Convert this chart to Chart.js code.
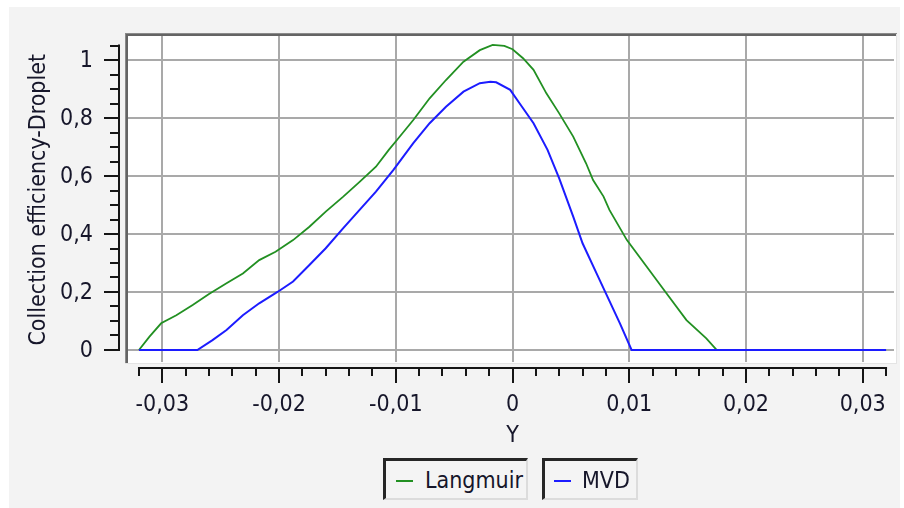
<!DOCTYPE html>
<html>
<head>
<meta charset="utf-8">
<script src="https://cdn.jsdelivr.net/npm/chart.js@4.4.1/dist/chart.umd.min.js"></script>
<style>
  html, body { margin: 0; padding: 0; background: #ffffff; }
  #wrap { position: relative; width: 904px; height: 508px; overflow: hidden; }
  #panel { position: absolute; left: 9px; top: 7px; width: 891px; height: 501px; background: #f3f3f3; }
  #plot { position: absolute; left: 0; top: 0; }
  .lg { position: absolute; top: 458px; height: 42px; box-sizing: border-box;
        border-top: 3px solid #262626; border-left: 3px solid #262626;
        border-right: 2px solid #dcdcdc; border-bottom: 2px solid #dcdcdc;
        background: #f4f4f4; font: 23px "DejaVu Sans Condensed", "Liberation Sans", sans-serif; color: #16162a; }
  .lg .sym { position: absolute; top: 19px; width: 17px; height: 2px; }
  .lg .txt { position: absolute; top: 5px; line-height: 28px; white-space: nowrap; }
</style>
</head>
<body>
<div id="wrap">
  <div id="panel"></div>
  <canvas id="plot" width="904" height="508"></canvas>
  <div class="lg" style="left:383px;width:145px;">
    <div class="sym" style="left:10px;background:#229022;"></div>
    <div class="txt" style="left:39px;">Langmuir</div>
  </div>
  <div class="lg" style="left:542px;width:96px;">
    <div class="sym" style="left:9px;background:#1c1cff;"></div>
    <div class="txt" style="left:37px;">MVD</div>
  </div>
</div>
<script>
// Collection efficiency along Y for the two droplet models
const langmuirX = [-0.032, -0.0311, -0.0301, -0.0288, -0.0274, -0.026, -0.0245, -0.0231, -0.0217, -0.0203,
  -0.0188, -0.0174, -0.016, -0.0145, -0.0131, -0.0117, -0.0106, -0.0099, -0.0085, -0.0071, -0.0057,
  -0.0042, -0.0028, -0.0017, -0.0007, 0.0, 0.0009, 0.0018, 0.0029, 0.004, 0.0052, 0.0063, 0.0069,
  0.0078, 0.0083, 0.0098, 0.0115, 0.0132, 0.0149, 0.0166, 0.0175, 0.032];
const langmuirY = [0, 0.046, 0.092, 0.12, 0.155, 0.193, 0.23, 0.264, 0.31, 0.339,
  0.379, 0.425, 0.477, 0.529, 0.58, 0.632, 0.69, 0.724, 0.793, 0.868, 0.931,
  0.994, 1.034, 1.052, 1.049, 1.037, 1.006, 0.966, 0.885, 0.816, 0.736, 0.644, 0.586,
  0.529, 0.483, 0.379, 0.287, 0.195, 0.103, 0.04, 0, 0];

const mvdX = [-0.032, -0.027, -0.0257, -0.0245, -0.0231, -0.0217, -0.0201, -0.0188, -0.0174, -0.016,
  -0.0145, -0.0131, -0.0117, -0.0102, -0.0085, -0.0071, -0.0057, -0.0042, -0.0028, -0.0019, -0.0014,
  -0.0002, 0.0006, 0.0018, 0.003, 0.004, 0.0052, 0.006, 0.0072, 0.008, 0.0092, 0.0102, 0.032];
const mvdY = [0, 0, 0.034, 0.069, 0.12, 0.161, 0.201, 0.236, 0.293, 0.351,
  0.42, 0.483, 0.546, 0.621, 0.713, 0.782, 0.839, 0.891, 0.92, 0.925, 0.923,
  0.897, 0.851, 0.782, 0.69, 0.592, 0.46, 0.368, 0.264, 0.195, 0.092, 0, 0];

// Axis ticks and labels (decimal comma)
const xMajorTicks = [-0.03, -0.02, -0.01, 0, 0.01, 0.02, 0.03];
const xTickLabels = ['-0,03', '-0,02', '-0,01', '0', '0,01', '0,02', '0,03'];
const yMajorTicks = [0, 0.2, 0.4, 0.6, 0.8, 1];
const yTickLabels = ['0', '0,2', '0,4', '0,6', '0,8', '1'];
const xAxisSpan = [-0.032, 0.032];
const yAxisSpan = [0, 1.05];
const xMinorStep = 0.002;
const yMinorStep = 0.05;
const xTitle = 'Y';
const yTitle = 'Collection efficiency-Droplet';

const FONT = '23px "DejaVu Sans Condensed", "Liberation Sans", sans-serif';
const TEXT = '#16162a';

const toPoints = (xs, ys) => xs.map((x, i) => ({ x, y: ys[i] }));

const canvasPlugin = {
  id: 'plotCanvas',
  beforeDatasetsDraw(chart) {
    const { ctx, chartArea: a, scales: { x, y } } = chart;
    ctx.save();
    // white plotting canvas
    ctx.fillStyle = '#ffffff';
    ctx.fillRect(a.left, a.top, a.right - a.left + 3, a.bottom - a.top + 1);
    // grid
    ctx.strokeStyle = '#a9a9a9';
    ctx.lineWidth = 2;
    ctx.beginPath();
    xMajorTicks.forEach(v => {
      const px = Math.round(x.getPixelForValue(v));
      ctx.moveTo(px, a.top); ctx.lineTo(px, a.bottom);
    });
    yMajorTicks.forEach(v => {
      const py = Math.round(y.getPixelForValue(v));
      ctx.moveTo(a.left, py); ctx.lineTo(a.right, py);
    });
    ctx.stroke();
    ctx.restore();
  },
  afterDatasetsDraw(chart) {
    const { ctx, chartArea: a, scales: { x, y } } = chart;
    ctx.save();
    // sunken frame around the canvas
    ctx.fillStyle = '#e4e4e4';
    ctx.fillRect(a.right + 2, a.top - 3, 1, a.bottom - a.top + 5);
    ctx.fillRect(a.left - 3, a.bottom + 1, a.right - a.left + 6, 1);
    ctx.fillStyle = '#8a8a8a';
    ctx.fillRect(a.left - 3, a.top - 3, a.right - a.left + 6, 1);
    ctx.fillRect(a.left - 3, a.top - 3, 1, a.bottom - a.top + 4);
    ctx.fillStyle = '#646464';
    ctx.fillRect(a.left - 2, a.top - 2, a.right - a.left + 4, 2);
    ctx.fillRect(a.left - 2, a.top - 2, 2, a.bottom - a.top + 3);

    ctx.strokeStyle = '#151515';
    ctx.fillStyle = TEXT;
    ctx.lineWidth = 2;
    ctx.font = FONT;

    // bottom axis, offset below the canvas
    const ay = a.bottom + 6;
    const x0 = x.getPixelForValue(xAxisSpan[0]);
    const x1 = x.getPixelForValue(xAxisSpan[1]);
    ctx.beginPath();
    ctx.moveTo(x0 - 1, ay); ctx.lineTo(x1 + 1, ay);
    const nx = Math.round((xAxisSpan[1] - xAxisSpan[0]) / xMinorStep);
    for (let i = 0; i <= nx; i++) {
      const v = xAxisSpan[0] + i * xMinorStep;
      const px = Math.round(x.getPixelForValue(v));
      const major = xMajorTicks.some(t => Math.abs(t - v) < 1e-9);
      ctx.moveTo(px, ay); ctx.lineTo(px, ay + (major ? 15 : 8));
    }
    ctx.stroke();
    ctx.textAlign = 'center';
    ctx.textBaseline = 'middle';
    xMajorTicks.forEach((v, i) => {
      ctx.fillText(xTickLabels[i], x.getPixelForValue(v), ay + 37);
    });
    ctx.fillText(xTitle, x.getPixelForValue(0), ay + 68);

    // left axis, offset beside the canvas
    const ax = a.left - 9;
    const y0 = y.getPixelForValue(yAxisSpan[0]);
    const y1 = y.getPixelForValue(yAxisSpan[1]);
    ctx.beginPath();
    ctx.moveTo(ax, y0 + 1); ctx.lineTo(ax, y1 - 1);
    const ny = Math.round((yAxisSpan[1] - yAxisSpan[0]) / yMinorStep);
    for (let i = 0; i <= ny; i++) {
      const v = yAxisSpan[0] + i * yMinorStep;
      const py = Math.round(y.getPixelForValue(v));
      const major = yMajorTicks.some(t => Math.abs(t - v) < 1e-9);
      ctx.moveTo(ax, py); ctx.lineTo(ax - (major ? 15 : 9), py);
    }
    ctx.stroke();
    ctx.textAlign = 'right';
    yMajorTicks.forEach((v, i) => {
      ctx.fillText(yTickLabels[i], ax - 26, y.getPixelForValue(v) + 1);
    });
    ctx.save();
    ctx.translate(39, (y0 + y1) / 2 + 2);
    ctx.rotate(-Math.PI / 2);
    ctx.textAlign = 'center';
    ctx.fillText(yTitle, 0, 0);
    ctx.restore();

    ctx.restore();
  }
};

new Chart(document.getElementById('plot'), {
  type: 'line',
  data: {
    datasets: [
      { label: 'Langmuir', data: toPoints(langmuirX, langmuirY), borderColor: '#229022',
        borderWidth: 1.8, pointRadius: 0, tension: 0, order: 2 },
      { label: 'MVD', data: toPoints(mvdX, mvdY), borderColor: '#1c1cff',
        borderWidth: 2, pointRadius: 0, tension: 0, order: 1 }
    ]
  },
  options: {
    responsive: false,
    devicePixelRatio: 1,
    animation: false,
    events: [],
    layout: { padding: { left: 128, top: 36, right: 10, bottom: 146 } },
    scales: {
      x: { type: 'linear', display: false, min: -0.03294, max: 0.03268 },
      y: { type: 'linear', display: false, min: -0.0414, max: 1.0828 }
    },
    plugins: { legend: { display: false }, tooltip: { enabled: false } }
  },
  plugins: [canvasPlugin]
});
</script>
</body>
</html>
